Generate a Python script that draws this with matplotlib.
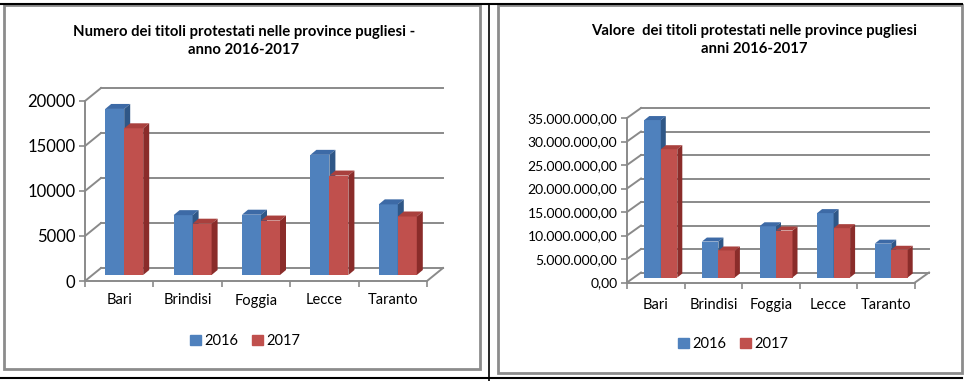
import matplotlib
matplotlib.use("Agg")
import matplotlib.pyplot as plt
from matplotlib.patches import Patch, Rectangle

plt.rcParams['font.family'] = ['Lato', 'DejaVu Sans']

# data
provinces = ["Bari", "Brindisi", "Foggia", "Lecce", "Taranto"]
years = ["2016", "2017"]

numero_2016 = [18450, 6650, 6700, 13350, 7850]
numero_2017 = [16300, 5700, 6050, 11050, 6500]
numero_ticks = [0, 5000, 10000, 15000, 20000]
numero_ticklabels = ["0", "5000", "10000", "15000", "20000"]

valore_2016 = [33500000, 7650000, 10900000, 13700000, 7200000]
valore_2017 = [27300000, 5750000, 10000000, 10500000, 5900000]
valore_ticks = [0, 5e6, 10e6, 15e6, 20e6, 25e6, 30e6, 35e6]
valore_ticklabels = ["0,00", "5.000.000,00", "10.000.000,00", "15.000.000,00",
                     "20.000.000,00", "25.000.000,00", "30.000.000,00", "35.000.000,00"]

W_PX, H_PX = 967, 381
GRID = "#8a8a8a"
front = ["#4f81bd", "#c0504d"]
top = ["#3d6aa6", "#a9403d"]
side = ["#2f5787", "#8a2c2a"]


def px_axes(fig, x0, y0, x1, y1):
    return fig.add_axes([x0 / W_PX, 1 - y1 / H_PX, (x1 - x0) / W_PX, (y1 - y0) / H_PX])


def px_to_data(ax, dx, dy):
    pos = ax.get_position()
    x0, x1 = ax.get_xlim()
    y0, y1 = ax.get_ylim()
    return dx * (x1 - x0) / (pos.width * W_PX), dy * (y1 - y0) / (pos.height * H_PX)


# draw one pseudo-3d clustered column chart, geometry given in pixels
def draw_chart(ax, series, ticks, ticklabels, wall, shift, depth, bar_px, ytick_size, xpad):
    n = len(provinces)
    ax.set_xlim(0, n)
    ax.set_ylim(0, ticks[-1])
    wx, wy = px_to_data(ax, *wall)
    sx, sy = px_to_data(ax, *shift)
    dx, dy = px_to_data(ax, *depth)
    bw, _ = px_to_data(ax, bar_px, 0)

    # walls and gridlines
    for v in ticks:
        ax.plot([0, wx], [v, v + wy], color=GRID, lw=1.4, clip_on=False, zorder=1)
        ax.plot([wx, n + wx], [v + wy, v + wy], color=GRID, lw=1.4, clip_on=False, zorder=1)
    ax.plot([n, n + wx], [0, wy], color=GRID, lw=1.4, clip_on=False, zorder=1)

    # columns
    for i in range(n):
        for j, vals in enumerate(series):
            v = vals[i]
            x = i + 0.5 - bw + j * bw + sx
            z = 3 + j
            ax.bar(x, v, width=bw, bottom=sy, align='edge', color=front[j],
                   lw=0, clip_on=False, zorder=z)
            ax.fill([x, x + bw, x + bw + dx, x + dx],
                    [v + sy, v + sy, v + sy + dy, v + sy + dy],
                    color=top[j], lw=0, clip_on=False, zorder=z)
            ax.fill([x + bw, x + bw + dx, x + bw + dx, x + bw],
                    [sy, sy + dy, v + sy + dy, v + sy],
                    color=side[j], lw=0, clip_on=False, zorder=z)

    for s in ["top", "right"]:
        ax.spines[s].set_visible(False)
    for s in ["left", "bottom"]:
        ax.spines[s].set_color(GRID)
        ax.spines[s].set_linewidth(1.4)
    ax.set_yticks(ticks)
    ax.set_yticklabels(ticklabels, fontsize=ytick_size)
    ax.tick_params(axis='y', length=4, width=1.2, color=GRID, pad=3)
    ax.set_xticks([i + 0.5 for i in range(n)])
    ax.set_xticklabels(provinces, fontsize=10.5)
    ax.set_xticks(range(n + 1), minor=True)
    ax.tick_params(axis='x', which='major', length=0, pad=xpad)
    ax.tick_params(axis='x', which='minor', length=4, width=1.2, color=GRID)
    ax.set_facecolor("none")


fig = plt.figure(figsize=(W_PX / 100, H_PX / 100), dpi=100)

# frames of the two cells
bg = fig.add_axes([0, 0, 1, 1])
bg.set_xlim(0, W_PX)
bg.set_ylim(H_PX, 0)
bg.axis("off")
bg.add_patch(Rectangle((3.5, 4.5), 476, 364, fill=False, ec="#8c8c8c", lw=2))
bg.add_patch(Rectangle((498, 4.5), 464, 368.5, fill=False, ec="#8c8c8c", lw=2))
bg.plot([0, 962], [4, 4], color="black", lw=1.5)
bg.plot([0, 962], [377.5, 377.5], color="black", lw=1.5)
bg.plot([488.5, 488.5], [4, H_PX], color="black", lw=1.2)

ax1 = px_axes(fig, 85, 101, 427, 281)
draw_chart(ax1, [numero_2016, numero_2017], numero_ticks, numero_ticklabels,
           wall=(16, 13), shift=(5, 6), depth=(6, 5), bar_px=19, ytick_size=12, xpad=9)

ax2 = px_axes(fig, 627, 118, 915, 282.5)
draw_chart(ax2, [valore_2016, valore_2017], valore_ticks, valore_ticklabels,
           wall=(14, 10), shift=(5, 5), depth=(5, 4), bar_px=16.5, ytick_size=10, xpad=11)

fig.text(244 / W_PX, 1 - 41 / H_PX,
         "Numero dei titoli protestati nelle province pugliesi -\nanno 2016-2017",
         ha="center", va="center", fontsize=10.7, fontweight="bold", linespacing=1.35)
fig.text(754 / W_PX, 1 - 40 / H_PX,
         "Valore  dei titoli protestati nelle province pugliesi\nanni 2016-2017",
         ha="center", va="center", fontsize=10.7, fontweight="bold", linespacing=1.35)

handles = [Patch(color=front[0], label=years[0]), Patch(color=front[1], label=years[1])]
for cx, cy in [(245, 341), (733, 344)]:
    fig.legend(handles=handles, loc="center", bbox_to_anchor=(cx / W_PX, 1 - cy / H_PX),
               ncol=2, frameon=False, fontsize=10.5, handlelength=0.75, handleheight=0.75,
               handletextpad=0.25, columnspacing=0.9)

fig.savefig("out.png", dpi=100)
